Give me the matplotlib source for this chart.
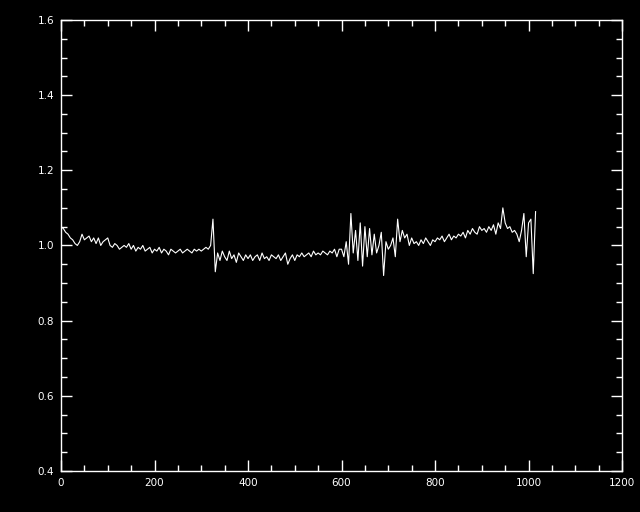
import matplotlib
matplotlib.use('Agg')
import matplotlib.pyplot as plt
from matplotlib.ticker import MultipleLocator
import numpy as np

# flux ratio sampled every 5 units along x
step = 5
ratio = [
    1.05, 1.045, 1.035, 1.03, 1.02, 1.015, 1.005, 1.0, 1.01, 1.03,
    1.015, 1.02, 1.025, 1.01, 1.02, 1.005, 1.02, 1.0, 1.01, 1.015,
    1.02, 1.0, 0.995, 1.005, 1.0, 0.99, 0.995, 1.0, 0.995, 1.005,
    0.99, 1.0, 0.985, 0.995, 0.99, 1.0, 0.985, 0.99, 0.995, 0.98,
    0.99, 0.985, 0.995, 0.98, 0.99, 0.985, 0.975, 0.99, 0.985, 0.98,
    0.985, 0.99, 0.98, 0.985, 0.99, 0.985, 0.98, 0.99, 0.985, 0.99,
    0.985, 0.99, 0.995, 0.99, 1.0, 1.07, 0.93, 0.98, 0.96, 0.985,
    0.97, 0.96, 0.985, 0.965, 0.975, 0.955, 0.98, 0.97, 0.96, 0.975,
    0.965, 0.975, 0.96, 0.97, 0.975, 0.96, 0.98, 0.965, 0.97, 0.96,
    0.975, 0.97, 0.965, 0.975, 0.96, 0.97, 0.98, 0.95, 0.965, 0.975,
    0.96, 0.975, 0.97, 0.98, 0.97, 0.975, 0.98, 0.97, 0.985, 0.975,
    0.98, 0.975, 0.985, 0.98, 0.975, 0.985, 0.98, 0.99, 0.97, 0.99,
    0.99, 0.97, 1.01, 0.95, 1.085, 0.98, 1.04, 0.96, 1.06, 0.945,
    1.05, 0.97, 1.045, 0.975, 1.03, 0.98, 1.0, 1.035, 0.92, 1.01,
    0.99, 1.0, 1.02, 0.97, 1.07, 1.01, 1.04, 1.02, 1.03, 1.0,
    1.02, 1.005, 1.01, 1.0, 1.015, 1.005, 1.02, 1.01, 1.0, 1.015,
    1.01, 1.02, 1.015, 1.025, 1.01, 1.02, 1.03, 1.015, 1.025, 1.02,
    1.03, 1.025, 1.035, 1.02, 1.04, 1.03, 1.045, 1.035, 1.03, 1.05,
    1.04, 1.045, 1.035, 1.05, 1.04, 1.055, 1.03, 1.06, 1.045, 1.1,
    1.06, 1.045, 1.05, 1.035, 1.04, 1.03, 1.01, 1.04, 1.085, 0.97,
    1.06, 1.07, 0.925, 1.09,
]
x = np.arange(len(ratio)) * step

fig = plt.figure(figsize=(6.4, 5.12), dpi=100, facecolor='black')
ax = fig.add_axes([0.0953, 0.0801, 0.8767, 0.881], facecolor='black')
ax.plot(x, ratio, color='white', lw=0.8)

ax.set_xlim(0, 1200)
ax.set_ylim(0.4, 1.6)
ax.xaxis.set_major_locator(MultipleLocator(200))
ax.xaxis.set_minor_locator(MultipleLocator(50))
ax.yaxis.set_major_locator(MultipleLocator(0.2))
ax.yaxis.set_minor_locator(MultipleLocator(0.05))
ax.yaxis.set_major_formatter(plt.FuncFormatter(lambda v, p: f'{v:.1f}'))
for s in ax.spines.values():
    s.set_color('white')
    s.set_linewidth(1)
ax.tick_params(which='both', direction='in', colors='white', top=True, right=True,
               labelsize=7.5, width=1)
ax.tick_params(which='major', length=8, pad=5)
ax.tick_params(which='minor', length=4)

fig.savefig('out.png', dpi=100, facecolor='black')
